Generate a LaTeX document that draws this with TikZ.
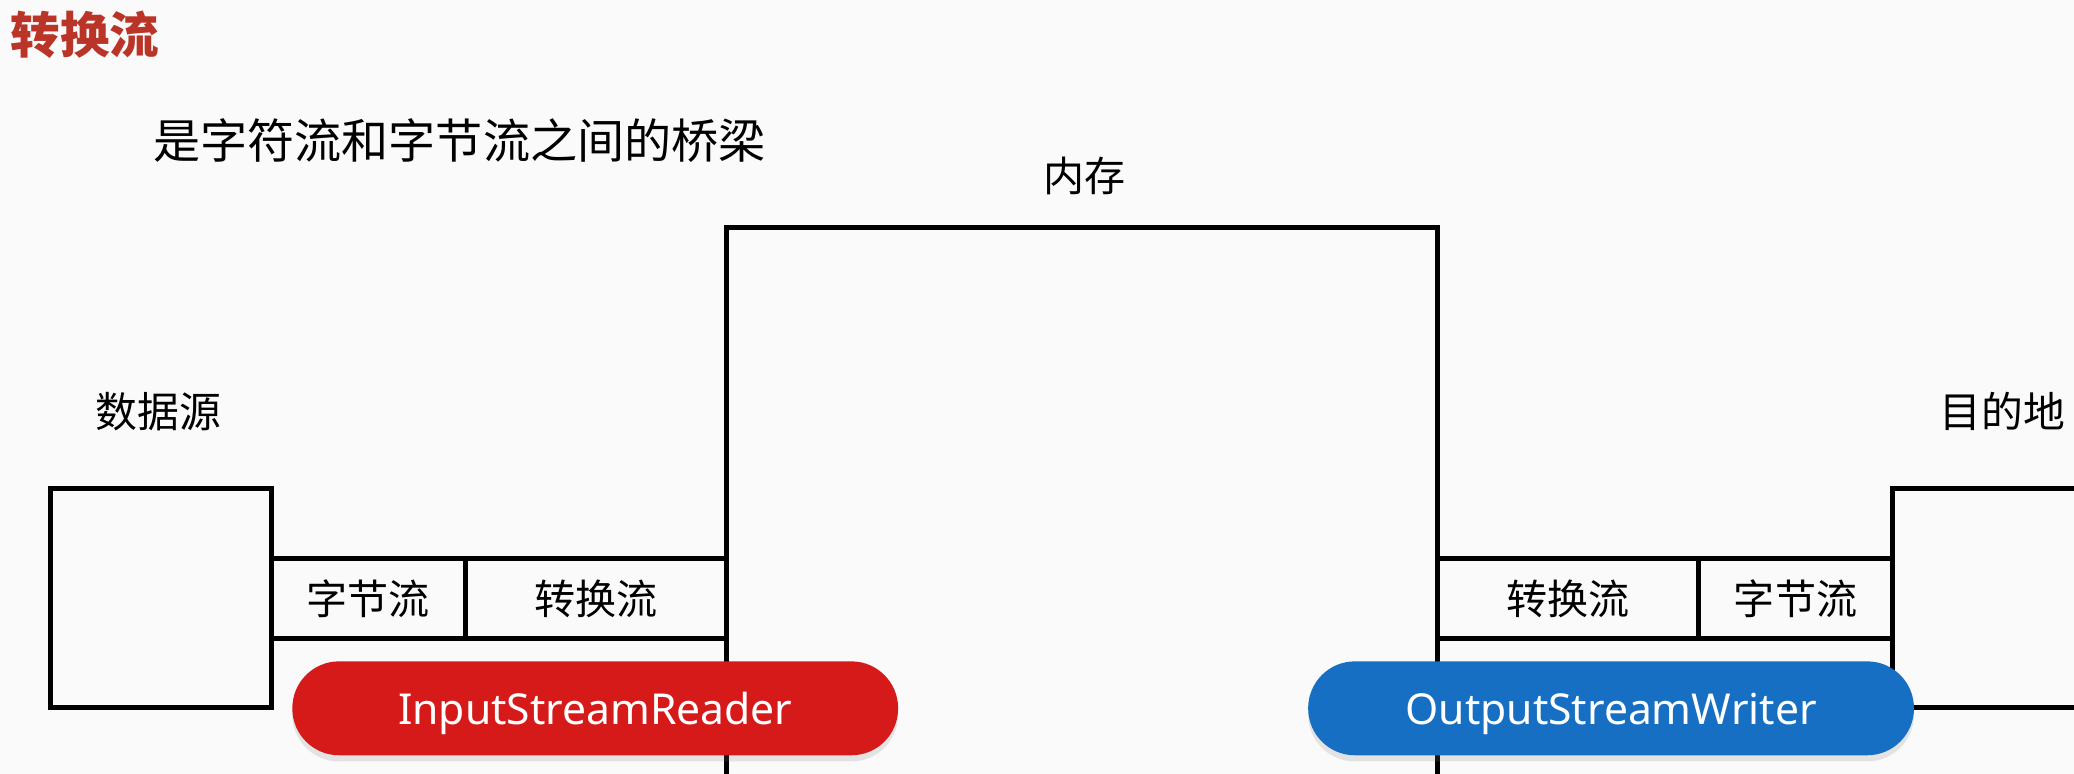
\documentclass[tikz,border=0pt]{standalone}
\usepackage{fontspec}
\setmainfont{Noto Sans}
\newfontfamily\cjk{Noto Sans CJK SC}
\usetikzlibrary{shadows}

\definecolor{paper}{RGB}{250,250,250}
\definecolor{titlered}{RGB}{186,52,40}
\definecolor{readerred}{RGB}{214,26,26}
\definecolor{writerblue}{RGB}{22,111,194}

\newcommand{\cnsize}[1]{\fontsize{#1}{#1}\selectfont\cjk}

\begin{document}
\begin{tikzpicture}[x=0.3mm,y=-0.3mm,line width=3.3pt,
  cell/.style={draw,inner sep=0pt,minimum height=18.3mm,font=\cnsize{26.5pt}},
  pill/.style={inner sep=0pt,minimum width=137.4mm,minimum height=21.3mm,
    rounded corners=10.6mm,text=white,text depth=0pt,font=\fontsize{27.5pt}{30pt}\selectfont,
    drop shadow={opacity=0.18,shadow xshift=0pt,shadow yshift=-4pt}}]
\fill[paper] (0,0) rectangle (1568,585);
\useasboundingbox (0,0) rectangle (1568,585);
\clip (0,0) rectangle (1568,585);

% titles
\node[anchor=west,inner sep=0pt,text=titlered,font=\cnsize{32pt}\bfseries] (title) at (6,26) {转换流};
\node[anchor=west,inner sep=0pt,font=\cnsize{30.4pt}] (bridge) at (114,106) {是字符流和字节流之间的桥梁};

% memory
\node[inner sep=0pt,font=\cnsize{26.5pt}] (memlabel) at (820,133) {内存};
\coordinate (memA) at (549,600);
\coordinate (memB) at (549,172);
\coordinate (memC) at (1087,172);
\coordinate (memD) at (1087,600);
\draw (memA) -- (memB) -- (memC) -- (memD);

% source side
\node[inner sep=0pt,font=\cnsize{27pt}] (srclabel) at (120,311) {数据源};
\node[draw,inner sep=0pt,minimum width=50.1mm,minimum height=49.8mm] (src) at (121.5,452) {};
\node[cell,minimum width=44.1mm] (inbyte) at (278.5,452.5) {字节流};
\node[cell,minimum width=59.1mm] (inconv) at (450.5,452.5) {转换流};

% destination side
\node[inner sep=0pt,font=\cnsize{27pt}] (dstlabel) at (1514,311) {目的地};
\coordinate (dstA) at (1600,369);
\coordinate (dstB) at (1431,369);
\coordinate (dstC) at (1431,535);
\coordinate (dstD) at (1600,535);
\draw (dstA) -- (dstB) -- (dstC) -- (dstD);
\node[cell,minimum width=59.1mm] (outconv) at (1185.5,452.5) {转换流};
\node[cell,minimum width=44.1mm] (outbyte) at (1357.5,452.5) {字节流};

% the two classes
\node[pill,fill=readerred] (reader) at (450,535.5) {InputStreamReader};
\node[pill,fill=writerblue] (writer) at (1218,535.5) {OutputStreamWriter};
\end{tikzpicture}
\end{document}
